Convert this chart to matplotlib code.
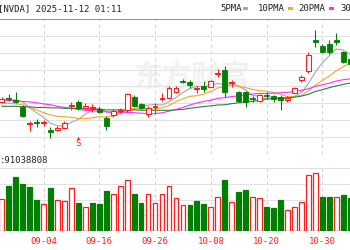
import matplotlib.pyplot as plt
from matplotlib.patches import Rectangle

## NVDA daily candles with moving averages and volume (cropped view)

dates = ['08-26', '08-27', '08-28', '08-29', '09-02', '09-03', '09-04', '09-05',
         '09-08', '09-09', '09-10', '09-11', '09-12', '09-15', '09-16', '09-17',
         '09-18', '09-19', '09-22', '09-23', '09-24', '09-25', '09-26', '09-29',
         '09-30', '10-01', '10-02', '10-03', '10-06', '10-07', '10-08', '10-09',
         '10-10', '10-13', '10-14', '10-15', '10-16', '10-17', '10-20', '10-21',
         '10-22', '10-23', '10-24', '10-27', '10-28', '10-29', '10-30', '10-31',
         '11-03', '11-04', '11-05']
opens = [179.8, 181.6, 180.7, 177.6, 169.9, 170.6, 170.3, 167.2, 167.2, 168.1,
         177.8, 179.6, 177.1, 176.9, 176.7, 172.6, 174.0, 175.5, 176.2, 181.8,
         178.9, 174.4, 177.3, 180.9, 181.6, 184.3, 189.3, 188.8, 185.4, 186.8,
         186.6, 192.2, 194.2, 188.1, 184.3, 184.3, 181.4, 180.0, 182.7, 182.5,
         182.1, 180.5, 183.9, 189.7, 193.8, 207.7, 205.2, 206.1, 207.9, 202.3, 199.2]
closes = [181.2, 180.9, 179.8, 173.5, 170.4, 170.1, 170.7, 166.1, 168.0, 170.2,
          178.2, 177.1, 177.8, 177.3, 175.3, 169.0, 175.8, 176.0, 183.4, 178.0,
          177.1, 177.1, 177.8, 181.6, 186.1, 185.9, 188.8, 187.2, 185.9, 185.4,
          189.0, 192.9, 184.3, 188.6, 180.0, 179.8, 180.9, 182.7, 182.3, 180.9,
          180.5, 181.4, 186.1, 191.1, 201.0, 206.6, 202.5, 202.1, 206.6, 197.8, 196.9]
highs = [182.1, 183.4, 184.3, 178.5, 171.3, 172.2, 171.5, 168.6, 169.0, 171.0,
         179.6, 180.7, 179.4, 178.7, 177.3, 173.3, 176.7, 177.1, 183.9, 183.0,
         179.4, 178.0, 179.4, 183.6, 187.0, 186.8, 189.9, 189.7, 187.0, 189.0,
         189.5, 194.4, 196.0, 189.7, 184.5, 184.5, 182.5, 183.2, 184.3, 183.0,
         183.0, 182.3, 186.6, 192.0, 202.3, 212.2, 205.7, 207.7, 210.9, 202.8, 202.3]
lows = [179.4, 180.3, 179.4, 172.8, 166.8, 168.6, 169.0, 163.6, 166.5, 167.4,
        176.2, 176.2, 176.7, 175.1, 174.6, 167.2, 173.1, 174.9, 175.3, 177.3,
        176.4, 173.1, 174.4, 180.3, 181.2, 183.6, 188.1, 186.1, 183.9, 184.3,
        186.3, 190.8, 182.1, 186.6, 179.6, 177.6, 179.8, 179.6, 181.2, 179.8,
        176.2, 179.8, 183.6, 188.6, 192.9, 204.6, 201.9, 201.6, 205.5, 197.1, 195.1]

ma5 = [180.3, 180.7, 180.7, 179.8, 177.1, 174.9, 172.9, 170.2, 169.0, 169.0,
       170.6, 171.9, 174.3, 176.1, 177.1, 175.3, 175.0, 174.7, 175.9, 176.4,
       178.1, 178.3, 178.7, 178.3, 179.9, 181.7, 184.0, 185.9, 186.8, 186.6,
       187.3, 188.1, 187.5, 188.0, 187.0, 185.1, 182.7, 182.4, 181.2, 181.3,
       181.5, 181.6, 182.2, 184.0, 188.0, 193.2, 197.4, 200.6, 203.7, 203.1, 201.2]
ma10 = [179.4, 179.1, 178.9, 178.5, 177.3, 176.2, 174.9, 174.0, 173.3, 173.1,
        172.8, 172.4, 172.2, 172.6, 173.1, 173.0, 173.5, 174.5, 176.0, 176.8,
        176.7, 176.7, 176.7, 177.1, 178.2, 179.9, 181.2, 182.3, 182.6, 183.3,
        184.5, 186.1, 186.7, 187.4, 186.8, 186.2, 185.4, 184.9, 184.6, 184.1,
        183.3, 182.1, 182.3, 182.6, 184.7, 187.3, 189.5, 191.4, 193.8, 195.6, 197.2]
ma20 = [180.7, 180.5, 180.3, 180.0, 179.8, 179.4, 178.9, 178.5, 177.8, 177.3,
        176.9, 176.4, 176.0, 175.8, 175.5, 175.3, 175.1, 175.1, 175.1, 174.9,
        174.7, 174.5, 174.5, 174.9, 175.6, 176.4, 177.3, 178.4, 179.3, 180.0,
        180.6, 181.4, 181.7, 182.2, 182.5, 183.0, 183.3, 183.6, 183.6, 183.7,
        183.9, 184.1, 184.5, 185.0, 185.7, 186.8, 187.5, 188.2, 189.2, 189.8, 190.2]
ma30 = [177.8, 177.8, 177.8, 177.6, 177.6, 177.3, 177.3, 177.1, 177.1, 176.9,
        176.9, 176.7, 176.7, 176.4, 176.4, 176.2, 176.2, 176.2, 176.2, 176.2,
        176.0, 176.0, 176.0, 176.0, 176.0, 176.2, 176.4, 176.9, 177.3, 177.7,
        178.0, 178.4, 178.5, 179.0, 179.4, 179.7, 180.0, 180.6, 181.1, 181.4,
        181.5, 181.6, 181.9, 182.4, 183.2, 184.5, 185.3, 186.2, 187.0, 187.7, 188.3]

# volume in millions of shares, vol_up = close above previous close
volumes = [171, 243, 290, 252, 236, 167, 144, 232, 167, 162,
           230, 153, 128, 149, 144, 216, 198, 243, 275, 198,
           149, 198, 153, 198, 243, 176, 137, 137, 162, 144,
           131, 185, 275, 155, 211, 221, 180, 176, 131, 126,
           167, 113, 131, 155, 302, 311, 182, 182, 182, 194, 176]
vol_up = [1, 0, 0, 0, 0, 0, 1, 0, 1, 1, 1, 0, 1, 0, 0, 0, 1, 1, 1, 0,
          0, 1, 1, 1, 1, 1, 1, 0, 0, 0, 1, 1, 0, 1, 0, 0, 1, 1, 0, 0,
          0, 1, 1, 1, 1, 1, 0, 0, 1, 0, 0]

tick_dates = ['09-04', '09-16', '09-26', '10-08', '10-20', '10-30']
signal_dates = ['09-11']
signal_labels = ['S']
ticker_title = '[NVDA] 2025-11-12 01:11'
last_volume = ':91038808'
ma_names = ['5PMA', '10PMA', '20PMA', '30PMA']

RED = '#ff1e1e'
GREEN = '#008000'
MA_COLORS = ['#a8a8a8', '#f5a623', '#ff2cff', '#2e7d4f']
GRID = '#e2e2e2'
MONO = 'DejaVu Sans Mono'

W, H = 350, 250
def fx(px):
	return px / W
def fy(py):
	return 1 - py / H

fig = plt.figure(figsize=(3.5, 2.5), dpi=100)
ax = fig.add_axes([0, fy(154), 1, (154 - 19) / H])
axv = fig.add_axes([0, fy(231), 1, (231 - 168) / H])

xs = list(range(len(dates)))
xmin, xmax = -0.244, 49.97
price_top, price_bot = 217.15, 156.4
vol_top = 338.4

# Price panel
ax.set_xlim(xmin, xmax)
ax.set_ylim(price_bot, price_top)
step = 7.605
ax.set_yticks([price_top - k * step for k in range(1, 9)])
ax.set_xticks([dates.index(d) for d in tick_dates])
ax.grid(axis='y', color=GRID, lw=0.8)
ax.grid(axis='x', color='#d4d4d4', lw=0.8, ls=(0, (3, 3)))
ax.tick_params(length=0, labelbottom=False, labelleft=False)
for s in ['left', 'right', 'bottom']:
	ax.spines[s].set_visible(False)
ax.spines['top'].set_color('#9a9a9a')
ax.spines['top'].set_linewidth(0.8)
ax.set_axisbelow(True)

# Watermark
ax.text(0.547, 0.57, '东方财富', transform=ax.transAxes, ha='center', va='center',
	fontsize=21, family='Noto Sans CJK SC', fontweight='bold', color='#f1f1f1', zorder=0.5)

# Moving averages
for vals, c in zip([ma5, ma10, ma20, ma30], MA_COLORS):
	ax.plot(xs, vals, color=c, lw=0.8, zorder=2)

# Candles
bw = 0.7
for i in xs:
	o, c, h, l = opens[i], closes[i], highs[i], lows[i]
	if c >= o:
		ax.vlines(i, l, o, color=RED, lw=0.8, zorder=3)
		ax.vlines(i, c, h, color=RED, lw=0.8, zorder=3)
		ax.add_patch(Rectangle((i - bw / 2, o), bw, max(c - o, 0.15), facecolor='white',
			edgecolor=RED, lw=0.8, zorder=4))
	else:
		ax.vlines(i, l, h, color=GREEN, lw=0.8, zorder=3)
		ax.add_patch(Rectangle((i - bw / 2, c), bw, max(o - c, 0.3), facecolor=GREEN,
			edgecolor=GREEN, lw=0.6, zorder=4))

# Signal marker
for d, lab in zip(signal_dates, signal_labels):
	i = dates.index(d)
	ax.plot(i, 163.6, marker='^', ms=2.5, color=RED, mew=0, zorder=5)
	ax.text(i, 161.0, lab, ha='center', va='center', fontsize=6.5, color=RED,
		family=MONO, zorder=5)

# Volume panel
axv.set_xlim(xmin, xmax)
axv.set_ylim(0, vol_top)
axv.set_yticks([vol_top * k / 4 for k in range(1, 5)])
axv.grid(axis='y', color=GRID, lw=0.8)
axv.grid(axis='x', color='#d4d4d4', lw=0.8, ls=(0, (3, 3)))
axv.set_axisbelow(True)
for s in axv.spines.values():
	s.set_visible(False)
fc = ['white' if u else GREEN for u in vol_up]
ec = [RED if u else GREEN for u in vol_up]
axv.bar(xs, volumes, width=0.68, color=fc, edgecolor=ec, lw=0.9, zorder=3)
axv.set_xticks([dates.index(d) for d in tick_dates])
axv.set_xticklabels(tick_dates, fontsize=6.5, family=MONO, color=RED)
axv.tick_params(length=0, pad=4.5, labelleft=False)

# Header texts
fig.text(fx(-1.5), fy(8.5), ticker_title, ha='left', va='center', fontsize=6.5,
	family=MONO, color='#222222')
fig.text(fx(0), fy(160.5), last_volume, ha='left', va='center', fontsize=6.5,
	family=MONO, color='#222222')

legend_x = [220, 258, 298, 340]
legend_box = [243, 288, 329, 372]
for name, c, tx, bx in zip(ma_names, MA_COLORS, legend_x, legend_box):
	fig.text(fx(tx), fy(8.5), name, ha='left', va='center', fontsize=6.5,
		family=MONO, color='#222222')
	fig.add_artist(Rectangle((fx(bx), fy(10)), fx(5), 3 / H, transform=fig.transFigure,
		facecolor=c, edgecolor='none'))

fig.savefig('out.png', dpi=100)
